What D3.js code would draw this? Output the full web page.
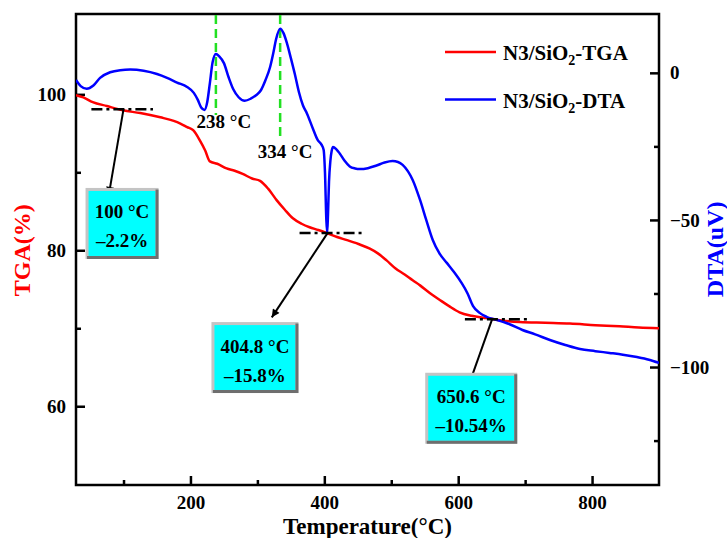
<!DOCTYPE html>
<html>
<head>
<meta charset="utf-8">
<script src="https://cdn.jsdelivr.net/npm/d3@7/dist/d3.min.js"></script>
<style>
  body { margin: 0; background: #fff; }
  text { font-family: "Liberation Serif", "Times New Roman", serif; font-weight: bold; }
</style>
</head>
<body>
<div id="graph"></div>
<script>
// TGA curve (weight %) vs temperature
var tgaTemp = [29, 40, 54, 75, 99, 125, 155, 175, 185, 195, 204, 214, 222, 229, 240, 254, 266, 278, 292, 304, 316, 329, 341, 353, 366, 378, 391, 404, 419, 434, 451, 468, 480, 493, 506, 520, 532, 543, 558, 573, 587, 602, 620, 643, 665, 692, 730, 767, 805, 841, 870, 900];
var tgaVal = [99.9, 99.6, 99.0, 98.5, 97.95, 97.6, 97.05, 96.6, 96.25, 95.8, 95.4, 94.1, 92.8, 91.4, 91.1, 90.5, 90.2, 89.8, 89.2, 88.9, 87.9, 86.4, 85.2, 84.1, 83.4, 82.95, 82.6, 82.2, 81.7, 81.3, 80.8, 80.2, 79.6, 78.7, 77.7, 76.9, 76.15, 75.5, 74.5, 73.6, 72.8, 72.05, 71.6, 71.3, 71.0, 70.8, 70.7, 70.6, 70.4, 70.25, 70.1, 70.0];

// DTA curve (uV) vs temperature
var dtaTemp = [29, 36, 45, 55, 65, 80, 95, 110, 130, 150, 165, 180, 195, 205, 211, 216, 221, 225, 229, 233, 238, 243, 250, 257, 264, 272, 281, 290, 298, 305, 312, 319, 324, 328, 334, 339, 344, 350, 356, 362, 368, 374, 383, 390, 396, 399, 401, 403, 404.3, 405.5, 407, 409, 411, 413, 418, 423, 430, 438, 446, 453, 465, 478, 490, 502, 510, 517, 525, 532, 543, 552, 562, 572, 583, 594, 605, 614, 622, 632, 643, 658, 675, 696, 715, 737, 760, 782, 805, 826, 846, 867, 885, 900];
var dtaVal = [-2.4, -4.5, -5.4, -4.3, -1.7, 0.2, 0.9, 1.1, 0.7, -0.4, -1.7, -3.3, -4.8, -6.8, -9.2, -11.8, -12.6, -10.0, -3.5, 3.5, 6.4, 5.6, 3.3, -1.5, -5.6, -8.3, -9.5, -8.8, -7.6, -6.0, -2.5, 2.0, 7.0, 11.5, 15.0, 13.5, 10.2, 5.0, -0.5, -6.5, -11.0, -13.8, -19.0, -22.8, -24.5, -26.2, -34, -50, -54.4, -48, -37, -30, -26.5, -25.2, -26, -27.4, -29.8, -31.8, -32.5, -32.7, -32.4, -31.5, -30.5, -30.0, -30.3, -31.3, -33.5, -36.4, -43.2, -49.8, -56.8, -61.4, -64.6, -67.8, -71.4, -75.0, -79.2, -81.6, -83.0, -84.0, -85.3, -87.4, -88.9, -90.8, -92.5, -93.9, -94.6, -95.2, -95.8, -96.6, -97.5, -98.6];

// ticks
var xTicks = [200, 400, 600, 800];
var xMinor = [100, 300, 500, 700];
var tgaTicks = [60, 80, 100];
var tgaMinor = [70, 90];
var dtaTicks = [0, -50, -100];
var dtaMinor = [-25, -75, -125];

// DTA peak markers
var peakTemps = [238, 334];
var peakLabels = ["238 °C", "334 °C"];
var peakLineEnd = [-14.3, -21.8];    // DTA value where dashed line stops
var peakLabelDTA = [-18.7, -28.9];   // DTA value of label baseline
var peakLabelShift = [8, 5];

// TGA step annotations
var stepTemps = [100, 404.8, 650.6];
var stepTGA = [98.1, 82.2, 71.15];
var stepLine1 = ["100 °C", "404.8 °C", "650.6 °C"];
var stepLine2 = ["–2.2%", "–15.8%", "–10.54%"];
var stepLineFrom = [52, 363, 610];
var stepLineTo = [144, 456, 704];
var boxT = [45.5, 233.6, 553];      // box top-left temperature
var boxTGA = [87.8, 70.6, 64.1];     // box top-left TGA
var boxW = [70, 84, 89];
var arrowT = [78, 321.5, 617];
var arrowTGA = [87.1, 71.4, 63.0];

var legendNames = ["TGA", "DTA"];

var w = 727, h = 538;
var padL = 76, padR = 659, padT = 14, padB = 485;

var svg = d3.select("#graph").append("svg")
  .attr("width", w)
  .attr("height", h);

var x = d3.scaleLinear().domain([29, 900]).range([padL, padR]);
var yT = d3.scaleLinear().domain([49.9, 110.3]).range([padB, padT]);
var yD = d3.scaleLinear().domain([-140.1, 20]).range([padB, padT]);

var defs = svg.append("defs");
defs.append("marker")
  .attr("id", "arr")
  .attr("viewBox", "0 0 10 10")
  .attr("refX", 10).attr("refY", 5)
  .attr("markerWidth", 10).attr("markerHeight", 8)
  .attr("markerUnits", "userSpaceOnUse")
  .attr("orient", "auto")
  .append("path")
  .attr("d", "M0,0 L10,5 L0,10 Z")
  .attr("fill", "#000");
defs.append("clipPath").attr("id", "plotclip")
  .append("rect")
  .attr("x", padL).attr("y", padT)
  .attr("width", padR - padL).attr("height", padB - padT);

// axes (ticks point inward)
function styleAxis(g) {
  g.select(".domain").remove();
  g.selectAll("line").attr("stroke", "#000").attr("stroke-width", 2.5);
  g.selectAll("text").attr("fill", "#000").style("font-size", "19px");
}

svg.append("g").attr("transform", "translate(0," + padB + ")")
  .call(d3.axisBottom(x).tickValues(xTicks).tickSize(-9).tickPadding(11))
  .call(styleAxis);
svg.append("g").attr("transform", "translate(0," + padB + ")")
  .call(d3.axisBottom(x).tickValues(xMinor).tickSize(-5).tickFormat(""))
  .call(styleAxis);

svg.append("g").attr("transform", "translate(" + padL + ",0)")
  .call(d3.axisLeft(yT).tickValues(tgaTicks).tickSize(-9).tickPadding(10))
  .call(styleAxis);
svg.append("g").attr("transform", "translate(" + padL + ",0)")
  .call(d3.axisLeft(yT).tickValues(tgaMinor).tickSize(-5).tickFormat(""))
  .call(styleAxis);

svg.append("g").attr("transform", "translate(" + padR + ",0)")
  .call(d3.axisRight(yD).tickValues(dtaTicks).tickSize(-9).tickPadding(11))
  .call(styleAxis);
svg.append("g").attr("transform", "translate(" + padR + ",0)")
  .call(d3.axisRight(yD).tickValues(dtaMinor).tickSize(-5).tickFormat(""))
  .call(styleAxis);

// frame
svg.append("rect")
  .attr("x", padL).attr("y", padT)
  .attr("width", padR - padL).attr("height", padB - padT)
  .attr("fill", "none").attr("stroke", "#000").attr("stroke-width", 2.5);

// green dashed peak markers
svg.selectAll(".peakLine").data(peakTemps).enter().append("line")
  .attr("class", "peakLine")
  .attr("x1", function(d) { return x(d); })
  .attr("x2", function(d) { return x(d); })
  .attr("y1", padT + 1)
  .attr("y2", function(d, i) { return yD(peakLineEnd[i]); })
  .attr("stroke", "#22e022")
  .attr("stroke-width", 2.5)
  .attr("stroke-dasharray", "9,5");

// curves
var plot = svg.append("g").attr("clip-path", "url(#plotclip)");
var tgaLine = d3.line()
  .x(function(d, i) { return x(tgaTemp[i]); })
  .y(function(d) { return yT(d); })
  .curve(d3.curveMonotoneX);
var dtaLine = d3.line()
  .x(function(d, i) { return x(dtaTemp[i]); })
  .y(function(d) { return yD(d); })
  .curve(d3.curveMonotoneX);

plot.append("path").datum(tgaVal)
  .attr("d", tgaLine)
  .attr("fill", "none").attr("stroke", "#ff0000").attr("stroke-width", 2.5);
plot.append("path").datum(dtaVal)
  .attr("d", dtaLine)
  .attr("fill", "none").attr("stroke", "#0000ff").attr("stroke-width", 2.5);

// peak labels
svg.selectAll(".peakLabel").data(peakTemps).enter().append("text")
  .attr("class", "peakLabel")
  .attr("x", function(d, i) { return x(d) + peakLabelShift[i]; })
  .attr("y", function(d, i) { return yD(peakLabelDTA[i]); })
  .attr("text-anchor", "middle")
  .style("font-size", "19px")
  .text(function(d, i) { return peakLabels[i]; });

// step annotations: dash-dot line, arrow, cyan box
var steps = svg.selectAll(".step").data(stepTemps).enter().append("g").attr("class", "step");

steps.append("line")
  .attr("x1", function(d, i) { return x(stepLineFrom[i]); })
  .attr("x2", function(d, i) { return x(stepLineTo[i]); })
  .attr("y1", function(d, i) { return yT(stepTGA[i]); })
  .attr("y2", function(d, i) { return yT(stepTGA[i]); })
  .attr("stroke", "#000").attr("stroke-width", 2.5)
  .attr("stroke-dasharray", "11,4,3,4");

steps.append("line")
  .attr("x1", function(d) { return x(d); })
  .attr("y1", function(d, i) { return yT(stepTGA[i]); })
  .attr("x2", function(d, i) { return x(arrowT[i]); })
  .attr("y2", function(d, i) { return yT(arrowTGA[i]); })
  .attr("stroke", "#000").attr("stroke-width", 2)
  .attr("marker-end", "url(#arr)");

var boxH = 68;
steps.append("rect")
  .attr("x", function(d, i) { return x(boxT[i]); })
  .attr("y", function(d, i) { return yT(boxTGA[i]); })
  .attr("width", function(d, i) { return boxW[i]; })
  .attr("height", boxH)
  .attr("fill", "#00ffff")
  .attr("stroke", "#c4c4c4").attr("stroke-width", 3);
steps.append("path")
  .attr("d", function(d, i) {
    var bx = x(boxT[i]), by = yT(boxTGA[i]);
    return "M" + (bx + boxW[i]) + "," + by + " L" + (bx + boxW[i]) + "," + (by + boxH) + " L" + bx + "," + (by + boxH);
  })
  .attr("fill", "none").attr("stroke", "#6e6e6e").attr("stroke-width", 3);

steps.append("text")
  .attr("x", function(d, i) { return x(boxT[i]) + boxW[i] / 2; })
  .attr("y", function(d, i) { return yT(boxTGA[i]) + 29; })
  .attr("text-anchor", "middle")
  .style("font-size", "19px")
  .text(function(d, i) { return stepLine1[i]; });
steps.append("text")
  .attr("x", function(d, i) { return x(boxT[i]) + boxW[i] / 2; })
  .attr("y", function(d, i) { return yT(boxTGA[i]) + 58; })
  .attr("text-anchor", "middle")
  .style("font-size", "19px")
  .text(function(d, i) { return stepLine2[i]; });

// legend
var legend = svg.selectAll(".legend").data(legendNames).enter().append("g")
  .attr("class", "legend")
  .attr("transform", function(d, i) { return "translate(445," + (52 + i * 47.5) + ")"; });
legend.append("line")
  .attr("x1", 0).attr("x2", 51)
  .attr("stroke", function(d, i) { return i == 0 ? "#ff0000" : "#0000ff"; })
  .attr("stroke-width", 2.5);
var lt = legend.append("text")
  .attr("x", 58).attr("y", 8)
  .style("font-size", "21px");
lt.append("tspan").text("N3/SiO");
lt.append("tspan").attr("dy", 5).style("font-size", "14px").text("2");
lt.append("tspan").attr("dy", -5).text(function(d) { return "-" + d; });

// axis titles
svg.append("text")
  .attr("x", (padL + padR) / 2).attr("y", 534)
  .attr("text-anchor", "middle")
  .style("font-size", "23px")
  .text("Temperature(°C)");
svg.append("text")
  .attr("transform", "translate(30," + yT(80) + ") rotate(-90)")
  .attr("text-anchor", "middle")
  .attr("fill", "#ff0000")
  .style("font-size", "24px")
  .text("TGA(%)");
svg.append("text")
  .attr("transform", "translate(723," + yD(-60) + ") rotate(-90)")
  .attr("text-anchor", "middle")
  .attr("fill", "#0000ff")
  .style("font-size", "24px")
  .text("DTA(uV)");
</script>
</body>
</html>
